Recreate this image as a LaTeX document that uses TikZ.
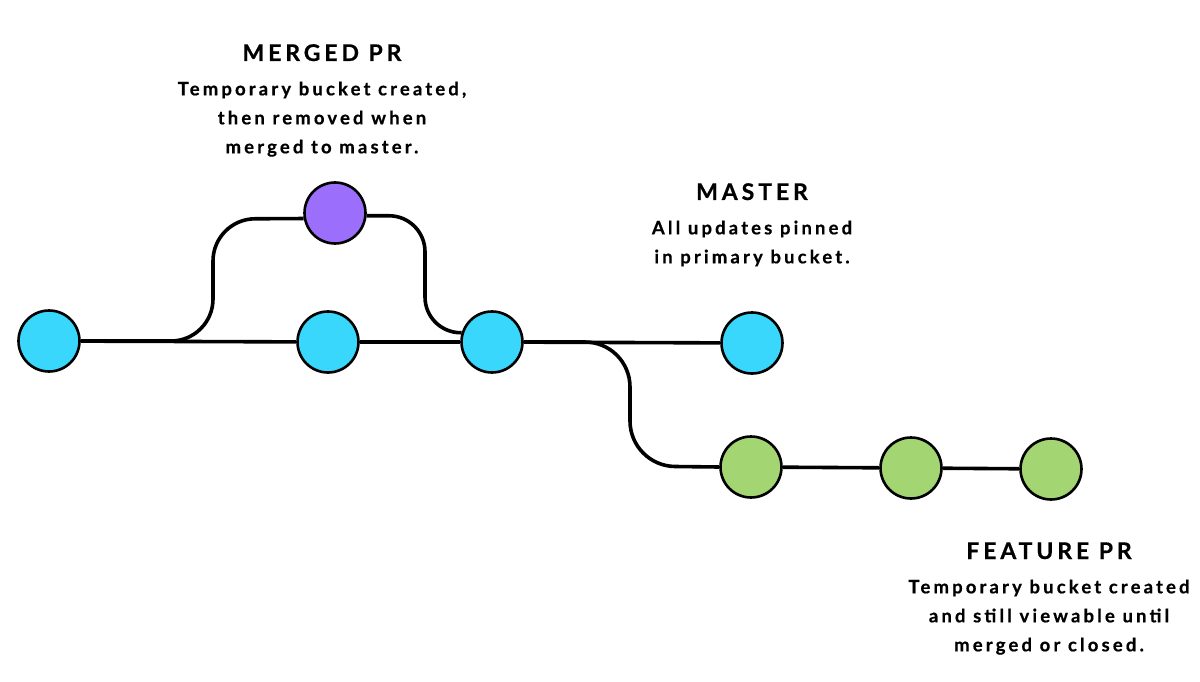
\documentclass[tikz,border=0pt]{standalone}
\usepackage{fontspec}
\setmainfont{Lato}
\newfontfamily\labelfont{Lato}[LetterSpace=17,BoldFeatures={FakeBold=0.6}]
\usetikzlibrary{positioning}

\definecolor{mastercol}{HTML}{3AD7FD}
\definecolor{mergedcol}{HTML}{9B6FFB}
\definecolor{featurecol}{HTML}{A3D572}

\begin{document}
\begin{tikzpicture}[x=1pt,y=-1pt,
      commit_master/.style={
         circle,
         draw=black,
         fill=mastercol,
         line width=2.6pt,
         inner sep=0pt,
         minimum size=61pt},
      commit_merged/.style={
         commit_master,
         fill=mergedcol},
      commit_feature/.style={
         commit_master,
         fill=featurecol},
      commit_line/.style={
         line width=3.6pt,
         },
      branch_line/.style={
         line width=3.6pt,
         rounded corners=42pt,
         },
      title_text/.style={
         font=\labelfont\bfseries\fontsize{23}{27}\selectfont,
         inner sep=0pt,
         anchor=base},
      note_text/.style={
         font=\labelfont\bfseries\fontsize{18.5}{29}\selectfont,
         align=center,
         inner sep=0pt}
]
      \useasboundingbox (0,0) rectangle (1200,682);

      %master
      \node[commit_master] (m1) at (49,341) {};
      \node[commit_master] (m2) at (328,342) {};
      \node[commit_master] (m3) at (492,342) {};
      \node[commit_master] (m4) at (752,343) {};

      %merged pr
      \node[commit_merged] (p1) at (335,213) {};

      %feature pr
      \node[commit_feature] (f1) at (751,467) {};
      \node[commit_feature] (f2) at (911,468) {};
      \node[commit_feature] (f3) at (1051,469) {};

      %bends of the branches
      \coordinate (bend_up) at (213,219);
      \coordinate (bend_down) at (425,333);
      \coordinate (bend_feature) at (630,466);

      \foreach \i/\j in {m1/m2, m2/m3, m3/m4, f1/f2, f2/f3}
      \draw [commit_line] (\i) -- (\j);

      \draw [branch_line] (m1.east) -| (bend_up) -- (p1.190);
      \draw [branch_line,rounded corners=36pt] (p1.-5) -| (bend_down) -- (m3.163);
      \draw [branch_line,rounded corners=45pt] (m3.east) -| (bend_feature) -- (f1.west);

      %labels
      \node[title_text] (merged_title) at (322,61) {MERGED PR};
      \node[note_text,below=20pt of merged_title] (merged_note)
         {Temporary bucket created,\\then removed when\\merged to master.};

      \node[title_text] (master_title) at (752,200) {MASTER};
      \node[note_text,below=20pt of master_title] (master_note)
         {All updates pinned\\in primary bucket.};

      \node[title_text] (feature_title) at (1049,559) {FEATURE PR};
      \node[note_text,below=20pt of feature_title] (feature_note)
         {Temporary bucket created\\and still viewable until\\merged or closed.};
\end{tikzpicture}
\end{document}
